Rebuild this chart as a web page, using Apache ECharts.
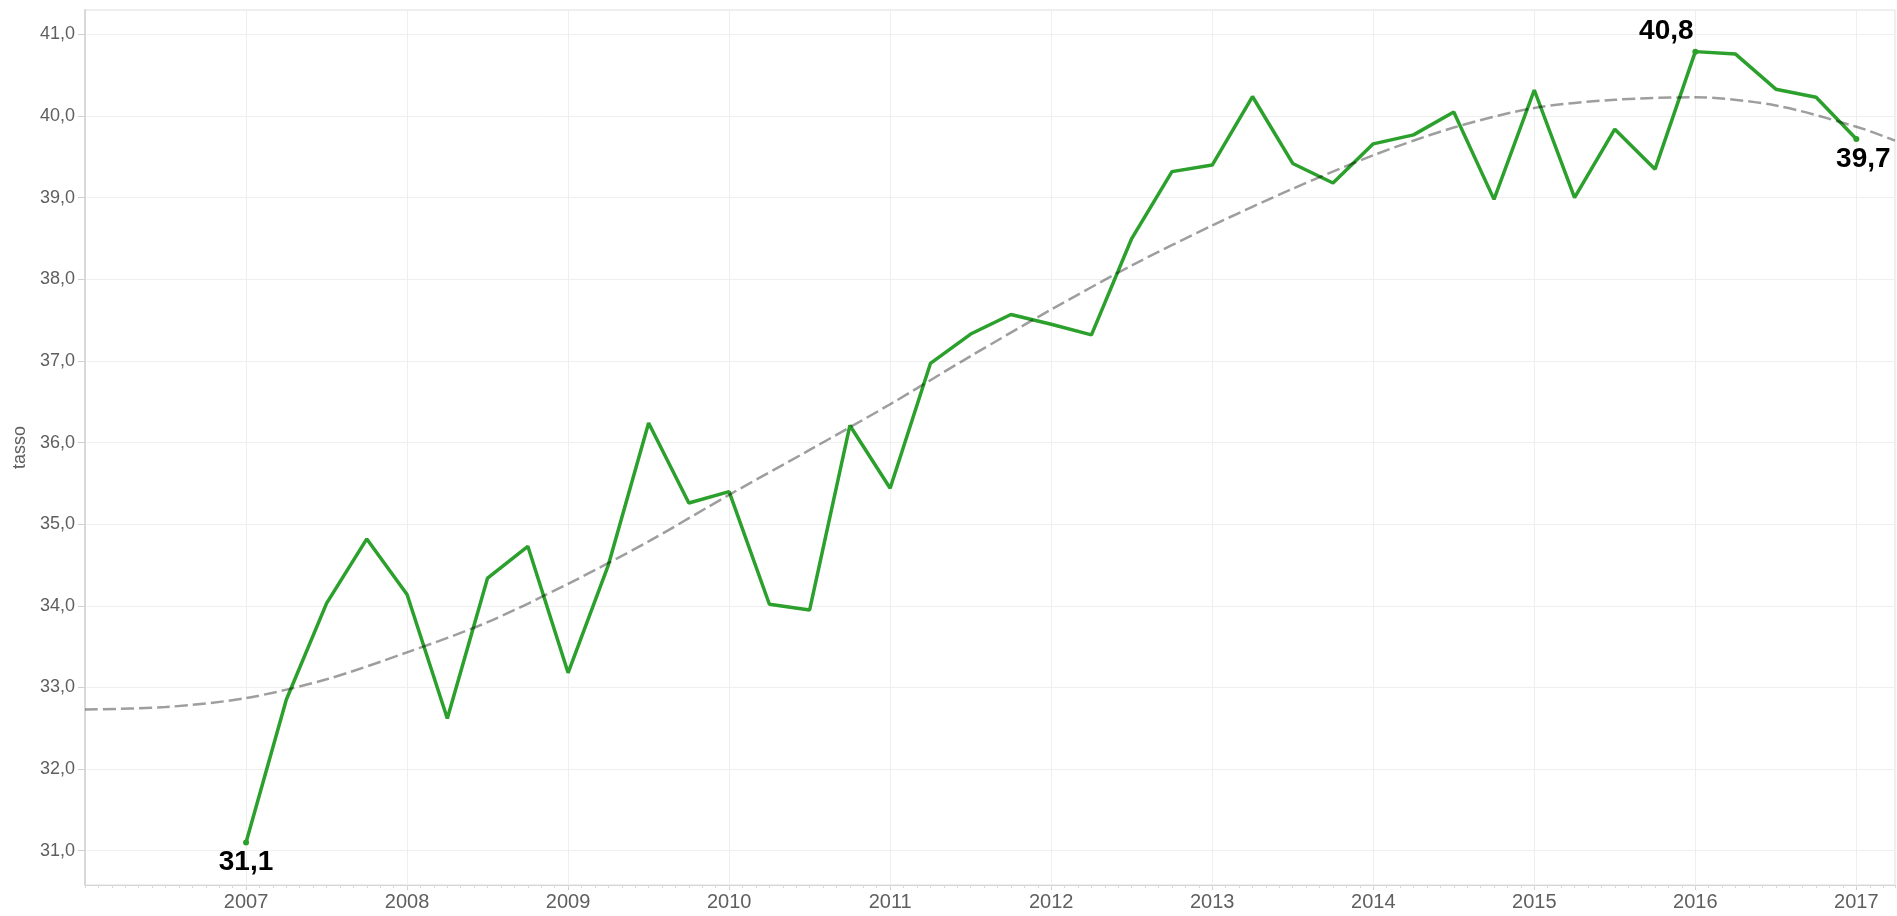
<!DOCTYPE html>
<html>
<head>
<meta charset="utf-8">
<script src="https://cdn.jsdelivr.net/npm/echarts@6/dist/echarts.min.js"></script>
<style>
html,body{margin:0;padding:0;background:#fff;}
#chart{width:1897px;height:916px;}
</style>
</head>
<body>
<div id="chart"></div>
<script>
// Quarter positions (year fraction, start of quarter)
const trimestri = [
  2007.00, 2007.25, 2007.50, 2007.75,
  2008.00, 2008.25, 2008.50, 2008.75,
  2009.00, 2009.25, 2009.50, 2009.75,
  2010.00, 2010.25, 2010.50, 2010.75,
  2011.00, 2011.25, 2011.50, 2011.75,
  2012.00, 2012.25, 2012.50, 2012.75,
  2013.00, 2013.25, 2013.50, 2013.75,
  2014.00, 2014.25, 2014.50, 2014.75,
  2015.00, 2015.25, 2015.50, 2015.75,
  2016.00, 2016.25, 2016.50, 2016.75,
  2017.00
];
const tasso = [
  31.10, 32.85, 34.03, 34.82,
  34.14, 32.62, 34.34, 34.73,
  33.18, 34.50, 36.24, 35.26,
  35.40, 34.02, 33.95, 36.21,
  35.44, 36.97, 37.33, 37.57,
  37.45, 37.32, 38.50, 39.32,
  39.40, 40.24, 39.42, 39.18,
  39.66, 39.77, 40.05, 38.98,
  40.32, 39.00, 39.84, 39.35,
  40.79, 40.76, 40.33, 40.23,
  39.72
];
// Indices of the labelled points (first, maximum, last)
const puntiEtichettati = [0, 36, 40];
// Trend line
const trendX = [2006.0, 2006.5, 2007.0, 2007.5, 2008.0, 2008.5, 2009.0, 2009.5, 2010.0, 2010.5, 2011.0, 2011.5,
                2012.0, 2012.5, 2013.0, 2013.5, 2014.0, 2014.5, 2015.0, 2015.5, 2016.0, 2016.5, 2017.0, 2017.24];
const trendY = [32.73, 32.76, 32.87, 33.10, 33.43, 33.80, 34.27, 34.79, 35.36, 35.91, 36.47, 37.06,
                37.63, 38.17, 38.66, 39.11, 39.52, 39.86, 40.10, 40.20, 40.23, 40.13, 39.87, 39.70];
// Tick labels
const anniTick = [2007, 2008, 2009, 2010, 2011, 2012, 2013, 2014, 2015, 2016, 2017];
const yTick = [31, 32, 33, 34, 35, 36, 37, 38, 39, 40, 41];

const X_MIN = 2006.0, X_MAX = 2017.24;
const Y_MIN = 30.58, Y_MAX = 41.3;
const FONT = '"Liberation Sans", Arial, sans-serif';
const fmt = v => v.toFixed(1).replace('.', ',');

const labelOffsets = {0: {position: 'bottom', offset: [0, 0]}, 36: {position: 'top', offset: [-29, 0]}, 40: {position: 'bottom', offset: [7, 0]}};

const lineData = trimestri.map((x, i) => {
  const item = {value: [x, tasso[i]]};
  if (puntiEtichettati.includes(i)) {
    const lo = labelOffsets[i];
    item.symbol = 'circle';
    item.symbolSize = 6;
    item.label = {
      show: true,
      position: lo.position,
      offset: lo.offset,
      distance: 3,
      formatter: p => fmt(p.value[1]),
      fontFamily: FONT,
      fontWeight: 'bold',
      fontSize: 28,
      color: '#000'
    };
  }
  return item;
});

const chart = echarts.init(document.getElementById('chart'), null, {renderer: 'canvas'});
chart.setOption({
  animation: false,
  backgroundColor: '#fff',
  grid: {left: 85, right: 2, top: 10, bottom: 31, show: true, borderColor: '#dedede', borderWidth: 1, containLabel: false},
  xAxis: [{
    type: 'value',
    min: X_MIN, max: X_MAX,
    position: 'bottom',
    axisLine: {show: true, lineStyle: {color: '#d4d4d4', width: 1}},
    axisTick: {show: true, length: 5, lineStyle: {color: '#cfcfcf'}, customValues: anniTick},
    axisLabel: {show: true, customValues: anniTick, formatter: v => String(Math.round(v)), color: '#5f5f5f', fontFamily: FONT, fontSize: 20, margin: 7},
    splitLine: {show: true, lineStyle: {color: '#efefef', width: 1}}
  }, {
    type: 'value',
    min: X_MIN * 12, max: X_MAX * 12, interval: 1,
    position: 'bottom',
    axisLine: {show: false},
    axisTick: {show: true, length: 3, lineStyle: {color: '#d8d8d8'}},
    axisLabel: {show: false},
    splitLine: {show: false}
  }],
  yAxis: {
    type: 'value',
    min: Y_MIN, max: Y_MAX,
    name: 'tasso',
    nameLocation: 'middle',
    nameGap: 46,
    nameTextStyle: {color: '#5f5f5f', fontFamily: FONT, fontSize: 18},
    axisLine: {show: true, lineStyle: {color: '#d8d8d8', width: 2}},
    axisTick: {show: true, length: 7, lineStyle: {color: '#d0d0d0'}, customValues: yTick},
    axisLabel: {show: true, customValues: yTick, formatter: v => fmt(v), color: '#5f5f5f', fontFamily: FONT, fontSize: 18, margin: 10},
    splitLine: {show: true, lineStyle: {color: '#efefef', width: 1}}
  },
  series: [{
    type: 'line',
    name: 'tasso',
    xAxisIndex: 0,
    data: lineData,
    symbol: 'none',
    showSymbol: true,
    lineStyle: {color: '#2ca02c', width: 3.5},
    itemStyle: {color: '#2ca02c'},
    z: 2
  }, {
    type: 'line',
    name: 'trend',
    xAxisIndex: 0,
    data: trendX.map((x, i) => [x, trendY[i]]),
    symbol: 'none',
    smooth: 0.3,
    silent: true,
    lineStyle: {color: 'rgba(0,0,0,0.38)', width: 2.5, type: [13, 5]},
    z: 3
  }]
});
</script>
</body>
</html>
